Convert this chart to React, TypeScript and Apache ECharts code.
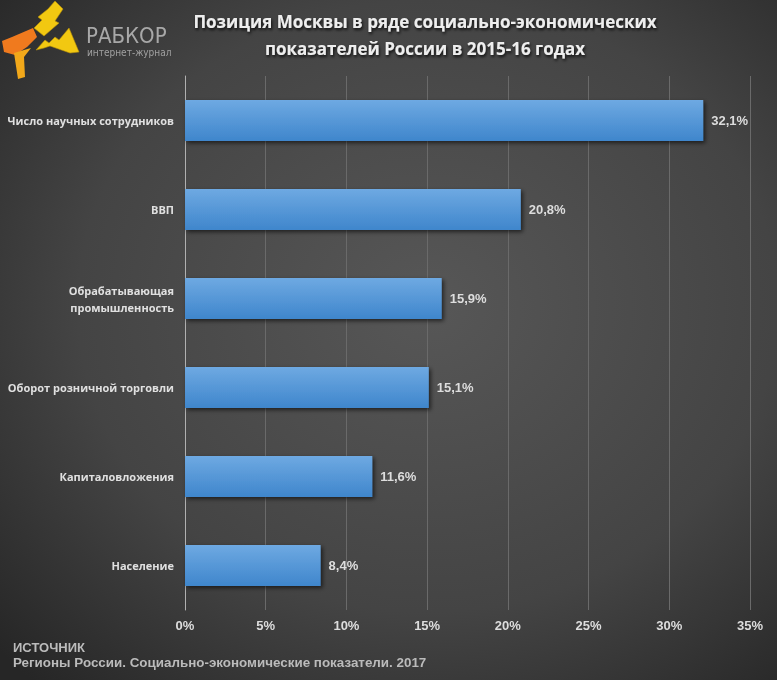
import React, { useEffect, useRef } from "react";
import * as echarts from "echarts";

const categories = [
  "Число научных сотрудников",
  "ВВП",
  "Обрабатывающая\nпромышленность",
  "Оборот розничной торговли",
  "Капиталовложения",
  "Население",
];
const values = [32.1, 20.8, 15.9, 15.1, 11.6, 8.4];
const xTicks = { min: 0, max: 35, interval: 5 };
const titleLines = [
  "Позиция Москвы в ряде социально-экономических",
  "показателей России в 2015-16 годах",
];
const sourceLines = [
  "ИСТОЧНИК",
  "Регионы России. Социально-экономические показатели. 2017",
];

export default function App() {
  const ref = useRef<HTMLDivElement>(null);
  useEffect(() => {
    const chart = echarts.init(ref.current!, null, { renderer: "svg" });
    const boltStyle = { fill: "#f2c811", stroke: "#b8900a", lineWidth: 0.6 };
    const option: any = {
      animation: false,
      backgroundColor: {
        type: "radial",
        x: 0.55,
        y: 0.45,
        r: 0.75,
        colorStops: [
          { offset: 0, color: "#575757" },
          { offset: 0.6, color: "#444444" },
          { offset: 1, color: "#262626" },
        ],
      },
      grid: { left: 185, right: 27, top: 76, bottom: 70 },
      xAxis: {
        type: "value",
        min: xTicks.min,
        max: xTicks.max,
        interval: xTicks.interval,
        axisLine: { show: false },
        axisTick: { show: false },
        splitLine: { show: true, lineStyle: { color: "#6a6a6a", width: 1 } },
        axisLabel: {
          formatter: "{value}%",
          color: "#dddddd",
          fontFamily: "Liberation Sans",
          fontWeight: "bold",
          fontSize: 13,
          margin: 9,
        },
      },
      yAxis: {
        type: "category",
        data: categories,
        inverse: true,
        axisLine: { show: true, lineStyle: { color: "#b0b0b0", width: 1 } },
        axisTick: { show: false },
        axisLabel: {
          color: "#e0e0e0",
          fontFamily: "Open Sans",
          fontWeight: "bold",
          fontSize: 11,
          margin: 11,
          lineHeight: 17,
          align: "right",
        },
      },
      series: [
        {
          type: "bar",
          data: values,
          barWidth: 41,
          itemStyle: {
            color: {
              type: "linear",
              x: 0,
              y: 0,
              x2: 0,
              y2: 1,
              colorStops: [
                { offset: 0, color: "#6ea9e2" },
                { offset: 1, color: "#3f86cc" },
              ],
            },
            shadowColor: "rgba(0,0,0,0.6)",
            shadowBlur: 4,
            shadowOffsetX: 2,
            shadowOffsetY: 2,
          },
          label: {
            show: true,
            position: "right",
            distance: 8,
            formatter: (p: any) => String(p.value).replace(".", ",") + "%",
            color: "#dddddd",
            fontFamily: "Liberation Sans",
            fontWeight: "bold",
            fontSize: 13,
          },
        },
      ],
      graphic: [
        {
          type: "text",
          x: 425,
          y: 8,
          style: {
            text: titleLines.join("\n"),
            align: "center",
            verticalAlign: "top",
            fill: "#eeeeee",
            font: "bold 17px 'Open Sans'",
            lineHeight: 27,
            textShadowColor: "rgba(0,0,0,0.8)",
            textShadowBlur: 3,
            textShadowOffsetX: 1,
            textShadowOffsetY: 2,
          },
        },
        {
          type: "text",
          x: 13,
          y: 641,
          style: {
            text: sourceLines[0],
            fill: "#bbbbbb",
            font: "bold 13px 'Liberation Sans'",
          },
        },
        {
          type: "text",
          x: 13,
          y: 656,
          style: {
            text: sourceLines[1],
            fill: "#bbbbbb",
            font: "bold 13.4px 'Liberation Sans'",
          },
        },
        {
          type: "text",
          x: 86,
          y: 24,
          style: {
            text: "РАБКОР",
            fill: "#a8a8a8",
            font: "22px 'DejaVu Sans Condensed'",
            lineHeight: 22,
            verticalAlign: "top",
            textShadowColor: "rgba(0,0,0,0.6)",
            textShadowOffsetX: 1,
            textShadowOffsetY: 1,
          },
        },
        {
          type: "text",
          x: 87,
          y: 47,
          style: {
            text: "интернет-журнал",
            fill: "#a0a0a0",
            font: "10px 'DejaVu Sans Condensed'",
            lineHeight: 10,
            verticalAlign: "top",
          },
        },
        {
          type: "polygon",
          shape: {
            points: [
              [55, 1], [63, 9], [55, 21], [59, 23], [44, 36], [34, 28], [42, 20], [38, 17], [48, 9],
            ],
          },
          style: boltStyle,
        },
        {
          type: "polygon",
          shape: {
            points: [
              [69, 28], [79, 52], [70, 53], [50, 46], [44, 48], [36, 50], [45, 40], [49, 43], [55, 37], [59, 40],
            ],
          },
          style: boltStyle,
        },
        {
          type: "polygon",
          shape: {
            points: [
              [2, 41], [12, 37], [33, 28], [37, 37], [27, 47], [15, 55], [4, 52],
            ],
          },
          style: { fill: "#f07a1e" },
        },
        {
          type: "polygon",
          shape: {
            points: [
              [14, 53], [24, 50], [31, 48], [24, 57], [25, 77], [18, 79],
            ],
          },
          style: { fill: "#f2a81a" },
        },
      ],
    };
    chart.setOption(option);
    return () => chart.dispose();
  }, []);
  return (
    <div
      ref={ref}
      style={{ position: "fixed", left: 0, top: 0, width: 777, height: 680 }}
    />
  );
}
